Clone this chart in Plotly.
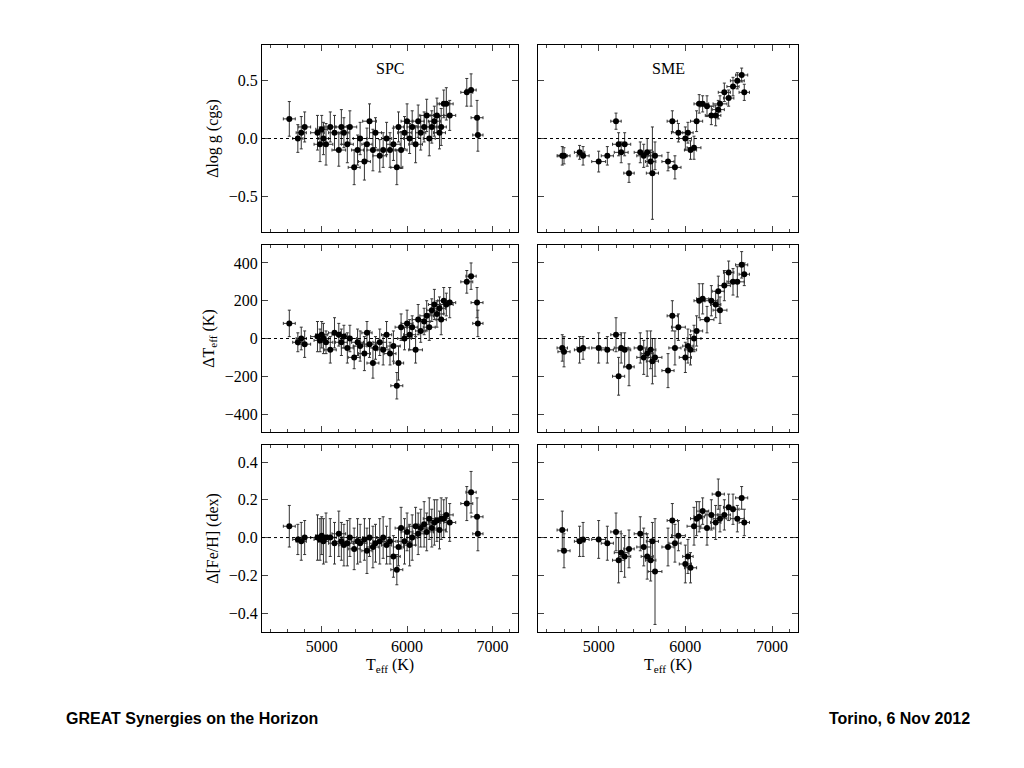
import plotly.graph_objects as go
from plotly.subplots import make_subplots

# SPC sample
spc_teff = [4620, 4720, 4760, 4800, 4950, 4980, 5000, 5020, 5050, 5100, 5150, 5200, 5230, 5260,
            5300, 5330, 5380, 5420, 5450, 5500, 5530, 5560, 5600, 5630, 5680, 5720, 5760, 5800,
            5840, 5880, 5900, 5930, 5970, 6000, 6030, 6060, 6100, 6130, 6160, 6200, 6230, 6260,
            6290, 6320, 6350, 6380, 6400, 6430, 6460, 6500, 6700, 6750, 6820, 6830]
spc_logg = [0.17, 0.0, 0.05, 0.1, 0.05, -0.05, 0.08, 0.0, -0.05, 0.1, 0.05, -0.1, 0.1, 0.05,
            -0.05, 0.1, -0.25, -0.1, 0.0, -0.2, -0.05, 0.15, -0.1, 0.05, -0.15, -0.1, 0.0, -0.1,
            -0.05, -0.25, 0.1, -0.1, 0.05, 0.15, 0.0, 0.1, -0.05, 0.15, 0.05, 0.1, 0.2, 0.0,
            0.1, 0.15, 0.2, 0.05, 0.1, 0.3, 0.3, 0.2, 0.4, 0.42, 0.18, 0.03]
spc_teff_d = [80, -20, 0, -30, 10, -10, 20, 0, -20, -60, 30, 20, -20, 10,
              -50, 0, -100, -20, -40, -80, 30, -30, -130, -50, -20, -60, 20, -80,
              -40, -250, -130, 60, 0, 80, 20, 60, -60, 100, 40, 90, 120, 60,
              150, 180, 130, 160, 100, 200, 180, 190, 300, 330, 190, 80]
spc_feh = [0.06, -0.01, -0.02, 0.0, 0.0, -0.01, 0.01, -0.02, 0.0, 0.0, -0.03, 0.02, -0.02, -0.04,
           -0.03, 0.0, -0.06, -0.02, -0.03, -0.01, -0.07, 0.0, -0.05, -0.03, -0.02, 0.0, -0.04, -0.02,
           -0.1, -0.17, -0.05, 0.05, -0.02, 0.03, -0.04, 0.0, 0.06, 0.02, 0.05, 0.07, 0.03, 0.1,
           0.05, 0.08, 0.09, 0.04, 0.1, 0.1, 0.12, 0.08, 0.18, 0.24, 0.11, 0.02]
spc_xerr = [70, 60, 60, 70, 80, 70, 70, 60, 80, 70, 70, 80, 70, 60,
            70, 80, 70, 70, 80, 70, 60, 80, 70, 70, 80, 70, 60, 70,
            80, 70, 60, 70, 80, 70, 70, 60, 80, 70, 60, 70, 80, 70,
            60, 70, 80, 70, 60, 70, 80, 70, 70, 60, 70, 60]
spc_logg_err = [0.15, 0.12, 0.14, 0.13, 0.15, 0.15, 0.12, 0.14, 0.18, 0.13, 0.15, 0.14, 0.15, 0.13,
                0.16, 0.14, 0.15, 0.13, 0.14, 0.16, 0.14, 0.15, 0.18, 0.13, 0.14, 0.15, 0.14, 0.15,
                0.14, 0.15, 0.13, 0.16, 0.14, 0.15, 0.13, 0.14, 0.16, 0.14, 0.15, 0.13, 0.14, 0.15,
                0.14, 0.13, 0.15, 0.14, 0.16, 0.12, 0.14, 0.13, 0.12, 0.14, 0.15, 0.14]
spc_teff_err = [70, 50, 60, 70, 80, 60, 70, 80, 60, 70, 80, 60, 70, 60,
                80, 70, 60, 70, 80, 90, 60, 70, 80, 60, 70, 80, 70, 60,
                80, 70, 90, 70, 60, 70, 80, 60, 70, 80, 60, 70, 80, 70,
                60, 80, 70, 60, 80, 70, 60, 80, 60, 70, 80, 70]
spc_feh_err = [0.11, 0.08, 0.1, 0.09, 0.12, 0.11, 0.1, 0.12, 0.13, 0.1, 0.11, 0.12, 0.1, 0.11,
               0.12, 0.1, 0.11, 0.12, 0.1, 0.11, 0.12, 0.1, 0.11, 0.1, 0.12, 0.11, 0.1, 0.12,
               0.11, 0.08, 0.1, 0.11, 0.12, 0.1, 0.11, 0.12, 0.1, 0.11, 0.1, 0.12, 0.1, 0.11,
               0.1, 0.12, 0.11, 0.1, 0.11, 0.1, 0.09, 0.1, 0.09, 0.11, 0.1, 0.09]

# SME sample
sme_teff = [4580, 4600, 4780, 4820, 5000, 5100, 5200, 5230, 5260, 5300, 5350, 5480, 5520, 5560,
            5600, 5620, 5650, 5800, 5850, 5880, 5920, 6000, 6030, 6060, 6100, 6130, 6160, 6200,
            6250, 6300, 6350, 6380, 6400, 6450, 6500, 6550, 6600, 6650, 6680]
sme_logg = [-0.15, -0.15, -0.12, -0.15, -0.2, -0.15, 0.15, -0.05, -0.12, -0.05, -0.3, -0.12, -0.15, -0.12,
            -0.2, -0.3, -0.15, -0.2, 0.15, -0.25, 0.05, 0.0, 0.05, -0.1, -0.08, 0.15, 0.3, 0.3,
            0.28, 0.2, 0.2, 0.25, 0.3, 0.4, 0.35, 0.45, 0.5, 0.55, 0.4]
sme_teff_d = [-50, -70, -60, -50, -50, -60, 20, -200, -50, -60, -150, -50, -100, -80,
              -60, -120, -100, -170, 120, -50, 60, -100, -40, -60, 0, 40, 200, 210,
              100, 200, 180, 250, 150, 280, 350, 300, 300, 390, 340]
sme_feh = [0.04, -0.07, -0.02, -0.01, -0.01, -0.03, 0.03, -0.12, -0.08, -0.1, -0.06, 0.02, -0.05, -0.1,
           -0.12, -0.02, -0.18, -0.05, 0.09, -0.03, 0.01, -0.14, -0.1, -0.16, 0.06, 0.1, 0.11, 0.14,
           0.05, 0.12, 0.08, 0.23, 0.1, 0.12, 0.16, 0.15, 0.1, 0.21, 0.08]
sme_xerr = [60, 70, 60, 70, 80, 70, 60, 70, 80, 70, 60, 70, 80, 70,
            60, 70, 80, 70, 60, 70, 80, 70, 60, 70, 80, 70, 60, 70,
            80, 70, 60, 70, 80, 70, 60, 70, 80, 70, 60]
sme_logg_err = [0.08, 0.07, 0.06, 0.08, 0.09, 0.08, 0.07, 0.1, 0.09, 0.1, 0.08, 0.09, 0.1, 0.12,
                0.1, 0.4, 0.12, 0.08, 0.09, 0.1, 0.08, 0.1, 0.09, 0.08, 0.1, 0.09, 0.08, 0.07,
                0.09, 0.08, 0.09, 0.08, 0.07, 0.08, 0.07, 0.08, 0.07, 0.06, 0.07]
sme_teff_err = [70, 80, 70, 60, 80, 70, 90, 100, 80, 90, 100, 80, 90, 120,
                100, 120, 100, 90, 80, 90, 70, 80, 90, 80, 70, 80, 90, 80,
                70, 80, 70, 80, 70, 80, 60, 70, 80, 70, 60]
sme_feh_err = [0.1, 0.09, 0.08, 0.09, 0.1, 0.09, 0.1, 0.12, 0.1, 0.11, 0.1, 0.09, 0.1, 0.12,
               0.11, 0.1, 0.28, 0.1, 0.09, 0.1, 0.08, 0.1, 0.09, 0.08, 0.1, 0.09, 0.08, 0.07,
               0.09, 0.08, 0.09, 0.08, 0.07, 0.08, 0.07, 0.08, 0.07, 0.06, 0.07]

fig = make_subplots(rows=3, cols=2)

panels = [
    (1, 1, spc_teff, spc_logg, spc_xerr, spc_logg_err),
    (1, 2, sme_teff, sme_logg, sme_xerr, sme_logg_err),
    (2, 1, spc_teff, spc_teff_d, spc_xerr, spc_teff_err),
    (2, 2, sme_teff, sme_teff_d, sme_xerr, sme_teff_err),
    (3, 1, spc_teff, spc_feh, spc_xerr, spc_feh_err),
    (3, 2, sme_teff, sme_feh, sme_xerr, sme_feh_err),
]
for r, c, x, y, ex, ey in panels:
    fig.add_trace(go.Scatter(
        x=x, y=y, mode="markers",
        marker=dict(color="black", size=6),
        error_x=dict(array=ex, color="#333", thickness=1, width=1.5),
        error_y=dict(array=ey, color="#333", thickness=1, width=1.5),
        showlegend=False), row=r, col=c)
    fig.add_hline(y=0, line=dict(color="black", width=1, dash="dot"), row=r, col=c)

# page is drawn with an 8px body margin, so pixel positions are shifted by 8
W, H, OFF = 1024, 768, 8
def px(v):
    return (v - OFF) / W
def py(v):
    return 1 - (v - OFF) / H

font = dict(family="Liberation Serif", size=16, color="black")
xdoms = [(px(262), px(518)), (px(538), px(798))]
ydoms = [(py(232), py(45)), (py(432), py(245)), (py(632), py(445))]
yranges = [[-0.81, 0.81], [-495, 495], [-0.5, 0.49]]
ytv = [[-0.5, 0, 0.5], [-400, -200, 0, 200, 400], [-0.4, -0.2, 0, 0.2, 0.4]]
ytt = [["−0.5", "0.0", "0.5"], ["−400", "−200", "0", "200", "400"], ["−0.4", "−0.2", "0.0", "0.2", "0.4"]]
ytitles = ["Δlog g (cgs)", "ΔT<sub>eff</sub> (K)", "Δ[Fe/H] (dex)"]
for r in range(3):
    for c in range(2):
        fig.update_xaxes(domain=xdoms[c], range=[4300, 7300], dtick=1000, minor=dict(dtick=200, ticks="inside", ticklen=3),
                         ticks="inside", ticklen=6, mirror="allticks", showline=True, linecolor="black",
                         showgrid=False, zeroline=False, showticklabels=(r == 2), tickfont=font,
                         title=dict(text="T<sub>eff</sub> (K)", font=font, standoff=4) if r == 2 else None,
                         row=r + 1, col=c + 1)
        fig.update_yaxes(domain=ydoms[r], range=yranges[r], tickvals=ytv[r], ticktext=ytt[r],
                         ticks="inside", ticklen=6, mirror="allticks", showline=True, linecolor="black",
                         showgrid=False, zeroline=False, showticklabels=(c == 0), tickfont=font,
                         title=dict(text=ytitles[r], font=font, standoff=6) if c == 0 else None,
                         row=r + 1, col=c + 1)

fig.add_annotation(text="SPC", x=px(390), y=py(58), xref="paper", yref="paper", showarrow=False, font=font)
fig.add_annotation(text="SME", x=px(668), y=py(58), xref="paper", yref="paper", showarrow=False, font=font)
foot = dict(family="Liberation Sans", size=16, color="black")
fig.add_annotation(text="<b>GREAT Synergies on the Horizon</b>", x=px(64), y=py(729), xref="paper", yref="paper",
                   xanchor="left", showarrow=False, font=foot)
fig.add_annotation(text="<b>Torino, 6 Nov 2012</b>", x=px(972), y=py(729), xref="paper", yref="paper",
                   xanchor="right", showarrow=False, font=foot)

fig.update_layout(width=W, height=H, margin=dict(l=0, r=0, t=0, b=0),
                  plot_bgcolor="white", paper_bgcolor="white")
fig.write_html("out.html")
